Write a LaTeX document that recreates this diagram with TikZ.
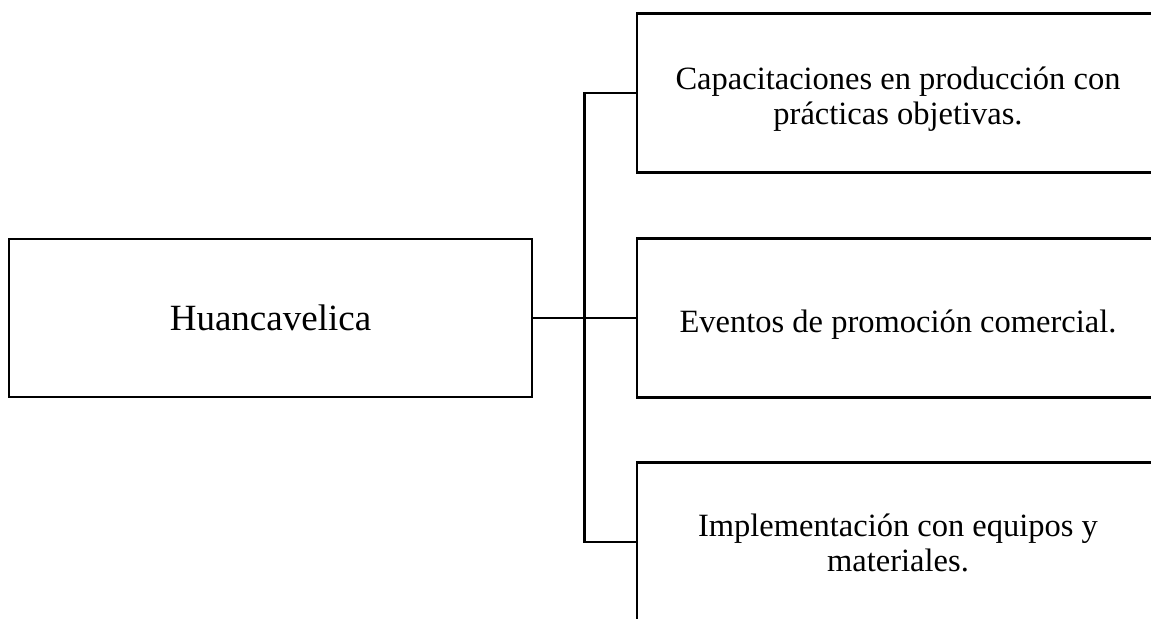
\documentclass[tikz,border=0pt]{standalone}
\usepackage{fontspec}
\setmainfont{Liberation Serif}
\usepackage{tikz}
\usetikzlibrary{positioning}
\tikzset{font={\fontsize{16.25pt}{17.5pt}\selectfont}}

\begin{document}
\begin{tikzpicture}[x=0.5pt,y=0.5pt,
region/.style={draw,line width=1.2pt,minimum width=261.5pt,minimum height=79pt,font={\fontsize{18.5pt}{22pt}\selectfont}},
action/.style={draw,line width=1.2pt,minimum width=261pt,minimum height=79.5pt,align=center,text depth=0pt},
link/.style={line width=1.2pt}
]
\useasboundingbox (0,0) rectangle (1151,619);
\clip (0,0) rectangle (1151,619);
\node[region] (huanca) at (270.5,301) {Huancavelica};
% cajas de la derecha
\node[action,text height=31.5pt] (capac) at (898,526) {Capacitaciones en producción con\\prácticas objetivas.};
\node[action,text height=14.7pt] (eventos) at (898,301) {Eventos de promoción comercial.};
\node[action,text height=30pt] (implem) at (898,77) {Implementación con equipos y\\materiales.};
\coordinate (trunk) at (584.5,301);

\draw[link] (huanca.east) -- (eventos.west);
\draw[link] (capac.west) -| (trunk) |- (implem.west);
\end{tikzpicture}
\end{document}
